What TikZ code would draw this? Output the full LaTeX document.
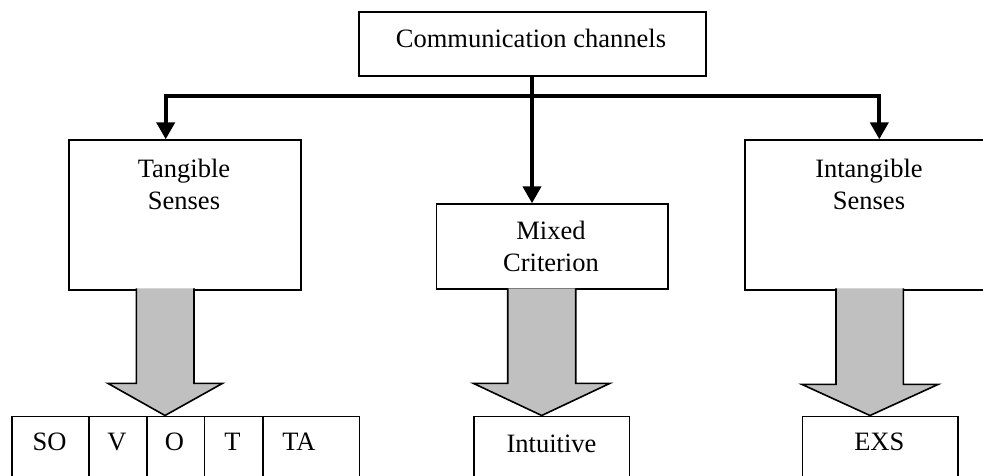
\documentclass[tikz,border=0pt]{standalone}
\usepackage{fontspec}
\setmainfont{Liberation Serif}
\usetikzlibrary{arrows.meta}
\begin{document}
\begin{tikzpicture}[x=1pt,y=-1pt,
  box/.style={draw, line width=1.6pt, inner sep=0pt, anchor=north west},
  lbl/.style={font=\fontsize{26.5}{32}\selectfont, align=center, inner sep=0pt},
  cell/.style={font=\fontsize{26.5}{32}\selectfont, inner sep=0pt, anchor=base},
  conn/.style={line width=4pt},
  arr/.style={line width=4pt, -{Triangle[length=17pt,width=18pt]}},
  grayarrow/.style={draw, line width=1.6pt, fill={rgb,255:red,192;green,192;blue,192}, line join=miter}
]
\path[use as bounding box, clip] (0,0) rectangle (983,475);

% boxes
\node[box, minimum width=347pt, minimum height=64pt] (topbox) at (358,11) {};
\node[box, minimum width=232pt, minimum height=150pt] (tanbox) at (68.3,139.3) {};
\node[box, minimum width=231.6pt, minimum height=85pt] (mixbox) at (435.7,203.3) {};
\node[box, minimum width=260pt, minimum height=150pt] (intbox) at (744,139.3) {};

% labels
\node[cell] (toplbl) at (531,47) {Communication channels};
\node[lbl] (tanlbl) at (184,184) {Tangible\\Senses};
\node[lbl] (mixlbl) at (551,246) {Mixed\\Criterion};
\node[lbl] (intlbl) at (869,184) {Intangible\\Senses};

% connectors
\coordinate (j) at (532,96);
\coordinate (tl) at (165.7,96);
\coordinate (tr) at (879.3,96);
\draw[conn] (topbox.south -| j) -- (j);
\draw[arr] (j) -| (tanbox.north -| tl);
\draw[arr] (j) -| (intbox.north -| tr);
\draw[arr] (j) -- (mixbox.north -| j);

% gray block arrows
\draw[grayarrow] (136.3,288.3) -- (136.3,383.3) -- (107.8,383.3) -- (165,415.5) -- (222.6,383.3) -- (194,383.3) -- (194,288.3);
\draw[grayarrow] (507.7,288.3) -- (507.7,383.3) -- (473.3,383.3) -- (541.7,415.5) -- (610,383.3) -- (575.7,383.3) -- (575.7,288.3);
\draw[grayarrow] (836,288.3) -- (836,384.3) -- (801.7,384.3) -- (870,415.5) -- (938.3,384.3) -- (903.3,384.3) -- (903.3,288.3);

% bottom row
\node[box, minimum width=77pt, minimum height=80pt] (so) at (11,415.7) {};
\node[box, minimum width=58pt, minimum height=80pt] (v) at (88,415.7) {};
\node[box, minimum width=57.5pt, minimum height=80pt] (o) at (146,415.7) {};
\node[box, minimum width=58.5pt, minimum height=80pt] (t) at (203.5,415.7) {};
\node[box, minimum width=96.5pt, minimum height=80pt] (ta) at (262,415.7) {};
\node[box, minimum width=155.4pt, minimum height=80pt] (intu) at (473.3,415.7) {};
\node[box, minimum width=155.6pt, minimum height=80pt] (exs) at (801.7,415.7) {};

\node[cell] (solbl) at (49.5,450) {SO};
\node[cell] (vlbl) at (117,450) {V};
\node[cell] (olbl) at (174.5,450) {O};
\node[cell] (tlbl) at (232.5,450) {T};
\node[cell] (talbl) at (299,450) {TA};
\node[cell] (intulbl) at (551.5,452) {Intuitive};
\node[cell] (exslbl) at (879.3,450) {EXS};
\end{tikzpicture}
\end{document}
